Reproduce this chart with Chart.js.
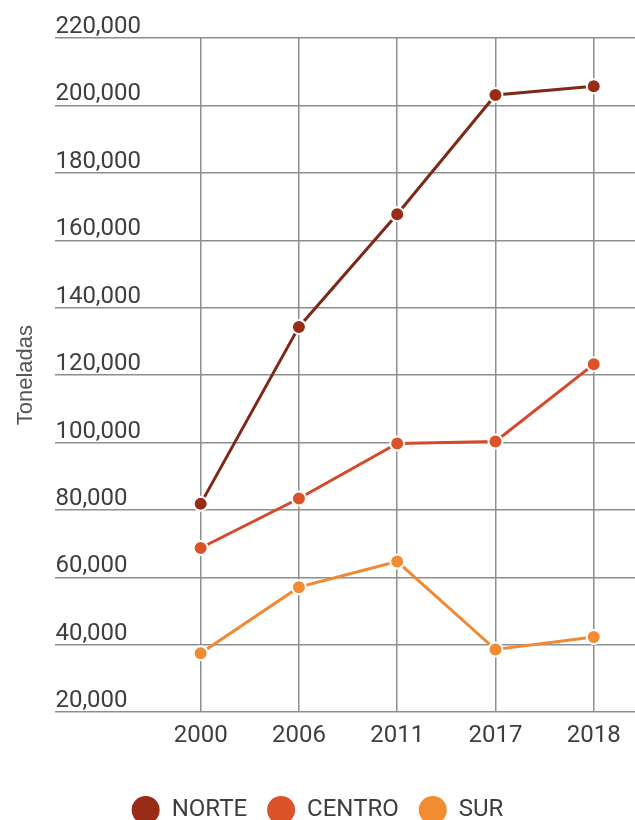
<!DOCTYPE html>
<html>
<head>
<meta charset="utf-8">
<script src="https://cdn.jsdelivr.net/npm/chart.js@4/dist/chart.umd.min.js"></script>
<style>
  html, body { margin: 0; padding: 0; background: #fff; }
  #box { width: 635px; height: 820px; }
</style>
</head>
<body>
<div id="box"><canvas id="chart" width="635" height="820"></canvas></div>
<script>
//
// datos
//
var years = ['2000', '2006', '2011', '2017', '2018'];
var norte = [81800, 134300, 167700, 203100, 205700];
var centro = [68700, 83400, 99700, 100300, 123200];
var sur = [37500, 57100, 64700, 38600, 42300];
var series_names = ['NORTE', 'CENTRO', 'SUR'];

// colores: linea y punto
var line_colors = ['#7e2818', '#d4482c', '#ee8a36'];
var point_colors = ['#982c16', '#dc532b', '#f28c32'];

var grid_color = '#8e8e8e';
var text_color = '#3e3e3e';

// las lineas horizontales llegan hasta el borde derecho,
// sin el margen extra que Chart.js deja para los puntos
Chart.LineController.prototype.getMaxOverflow = function() { return 0; };

function toPoints(values) {
  return values.map(function(v, i) { return {x : i, y : v}; });
}

function makeDataset(idx, values) {
  return {
    label : series_names[idx],
    data : toPoints(values),
    borderColor : line_colors[idx],
    backgroundColor : point_colors[idx],
    borderWidth : 3,
    pointRadius : 7,
    pointHoverRadius : 7,
    pointBackgroundColor : point_colors[idx],
    pointBorderColor : '#ffffff',
    pointBorderWidth : 2,
    tension : 0,
    fill : false
  };
}

var ctx = document.getElementById('chart').getContext('2d');
var chart = new Chart(ctx, {
  type : 'line',
  data : {
    datasets : [
      makeDataset(0, norte),
      makeDataset(1, centro),
      makeDataset(2, sur)
    ]
  },
  options : {
    responsive : false,
    animation : false,
    layout : {padding : {left : 0, right : 0, top : 38, bottom : -14}},
    plugins : {
      tooltip : {enabled : false},
      legend : {
        position : 'bottom',
        labels : {
          boxWidth : 28,
          boxHeight : 28,
          useBorderRadius : true,
          borderRadius : 14,
          padding : 20,
          color : text_color,
          font : {family : 'Roboto', size : 24},
          generateLabels : function(c) {
            var items = Chart.defaults.plugins.legend.labels.generateLabels(c);
            items.forEach(function(it) {
              it.fillStyle = point_colors[it.datasetIndex];
              it.lineWidth = 0;
            });
            return items;
          }
        }
      }
    },
    scales : {
      x : {
        type : 'linear',
        min : -1.478,
        max : 4.42,
        afterBuildTicks : function(axis) {
          axis.ticks = years.map(function(y, i) { return {value : i}; });
        },
        afterFit : function(axis) { axis.height += 17; },
        border : {display : false},
        grid : {color : grid_color, lineWidth : 1.5, drawTicks : false},
        ticks : {
          padding : 9,
          color : text_color,
          font : {family : 'Roboto', size : 24},
          callback : function(value) { return years[value]; }
        }
      },
      y : {
        min : 20000,
        max : 220000,
        border : {display : false},
        grid : {color : grid_color, lineWidth : 1.5, drawTicks : false},
        ticks : {
          stepSize : 20000,
          mirror : true,
          padding : 0,
          labelOffset : -11,
          color : text_color,
          font : {family : 'Roboto', size : 24},
          callback : function(value) { return value.toLocaleString('en-US'); }
        },
        title : {
          display : true,
          text : 'Toneladas',
          color : '#555555',
          font : {family : 'Liberation Sans', size : 22},
          padding : {top : 13, bottom : 16}
        }
      }
    }
  }
});
</script>
</body>
</html>
